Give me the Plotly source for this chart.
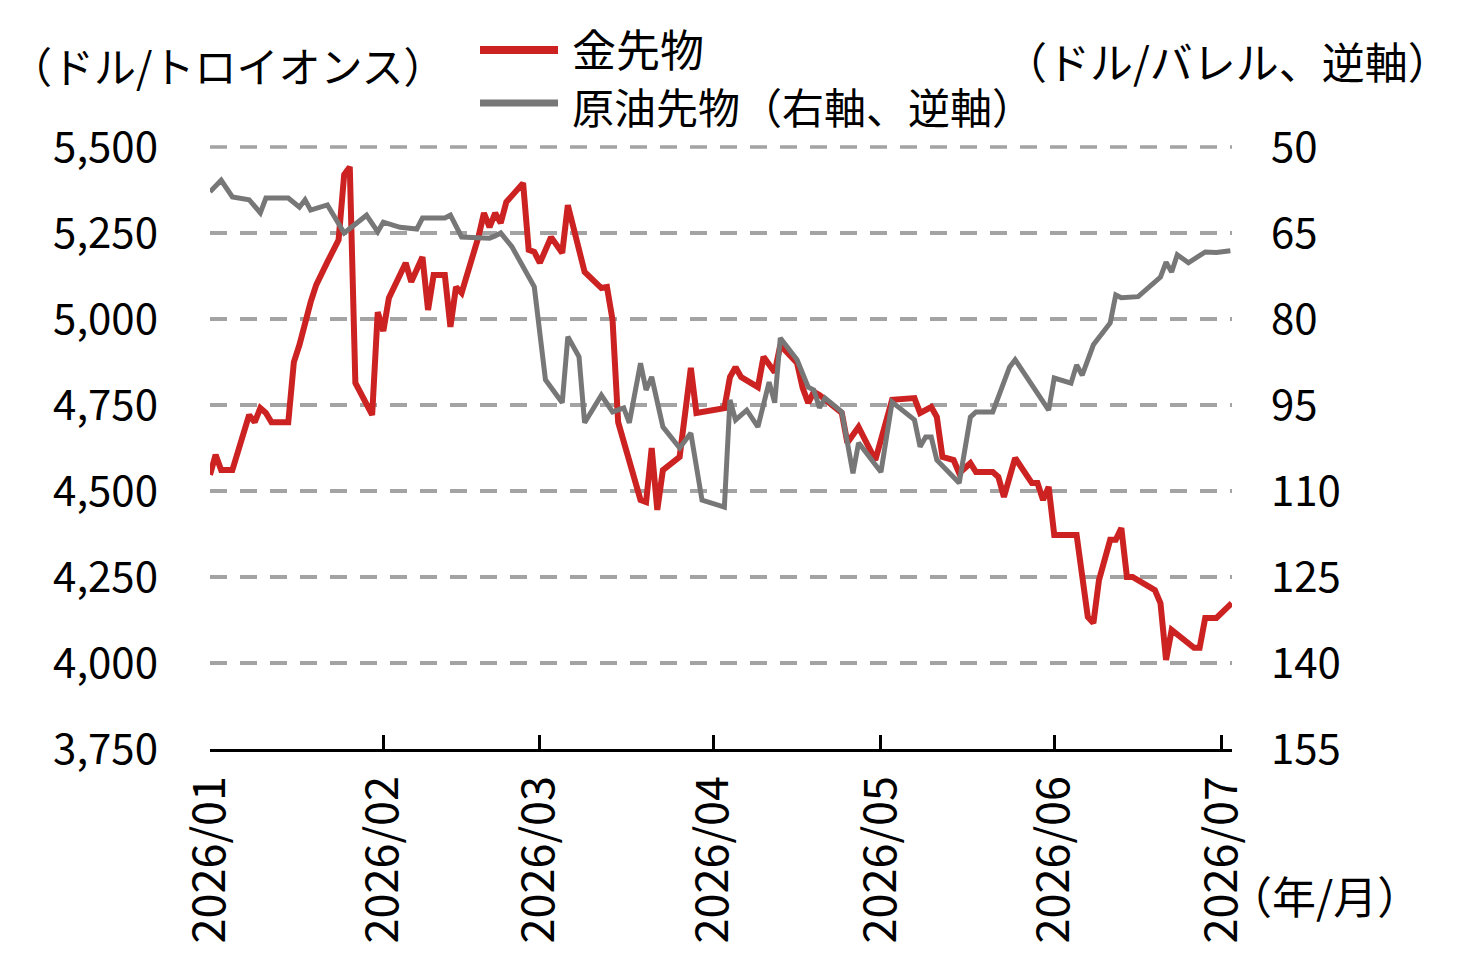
import plotly.graph_objects as go

# ---- data ----
gold_dates = [
    "2026-01-01", "2026-01-02", "2026-01-03", "2026-01-05", "2026-01-08", "2026-01-09",
    "2026-01-10", "2026-01-11", "2026-01-12", "2026-01-15", "2026-01-16", "2026-01-17",
    "2026-01-19", "2026-01-20", "2026-01-22", "2026-01-23", "2026-01-24", "2026-01-25",
    "2026-01-26", "2026-01-27", "2026-01-30", "2026-01-31", "2026-02-01", "2026-02-02",
    "2026-02-04", "2026-02-05", "2026-02-06", "2026-02-08", "2026-02-09", "2026-02-10",
    "2026-02-12", "2026-02-13", "2026-02-14", "2026-02-15", "2026-02-18", "2026-02-19",
    "2026-02-20", "2026-02-21", "2026-02-22", "2026-02-23", "2026-02-26", "2026-02-27",
    "2026-02-28", "2026-03-01", "2026-03-03", "2026-03-05", "2026-03-06", "2026-03-09",
    "2026-03-12", "2026-03-13", "2026-03-14", "2026-03-15", "2026-03-19", "2026-03-20",
    "2026-03-21", "2026-03-22", "2026-03-23", "2026-03-26", "2026-03-28", "2026-03-29",
    "2026-04-03", "2026-04-04", "2026-04-05", "2026-04-06", "2026-04-09", "2026-04-10",
    "2026-04-12", "2026-04-13", "2026-04-16", "2026-04-17", "2026-04-18", "2026-04-19",
    "2026-04-20", "2026-04-24", "2026-04-25", "2026-04-27", "2026-04-30", "2026-05-03",
    "2026-05-07", "2026-05-08", "2026-05-10", "2026-05-11", "2026-05-12", "2026-05-14",
    "2026-05-15", "2026-05-17", "2026-05-18", "2026-05-21", "2026-05-22", "2026-05-23",
    "2026-05-25", "2026-05-28", "2026-05-29", "2026-05-30", "2026-05-31", "2026-06-01",
    "2026-06-05", "2026-06-07", "2026-06-08", "2026-06-09", "2026-06-11", "2026-06-12",
    "2026-06-13", "2026-06-14", "2026-06-15", "2026-06-19", "2026-06-20", "2026-06-21",
    "2026-06-22", "2026-06-26", "2026-06-27", "2026-06-28", "2026-06-30", "2026-07-02 18:00",
]
gold_values = [
    4547, 4605, 4561, 4561, 4721, 4700,
    4741, 4727, 4700, 4700, 4875, 4925,
    5049, 5099, 5166, 5201, 5230, 5420,
    5442, 4814, 4721, 5020, 4965, 5061,
    5134, 5163, 5108, 5180, 5026, 5128,
    5128, 4977, 5093, 5076, 5238, 5308,
    5267, 5308, 5279, 5340, 5395, 5201,
    5195, 5163, 5238, 5192, 5331, 5137,
    5090, 5093, 4997, 4700, 4474, 4468,
    4625, 4445, 4561, 4599, 4858, 4727,
    4741, 4831, 4860, 4831, 4802, 4890,
    4845, 4924, 4872, 4800, 4756, 4788,
    4779, 4727, 4640, 4686, 4590, 4765,
    4770, 4727, 4744, 4715, 4599, 4590,
    4552, 4581, 4555, 4555, 4541, 4483,
    4596, 4523, 4523, 4474, 4512, 4372,
    4372, 4134, 4116, 4241, 4358, 4358,
    4392, 4250, 4250, 4212, 4174, 4009,
    4096, 4044, 4044, 4131, 4131, 4174,
]

oil_dates = [
    "2026-01-01", "2026-01-03", "2026-01-05", "2026-01-08", "2026-01-10", "2026-01-11",
    "2026-01-15", "2026-01-17", "2026-01-18", "2026-01-19", "2026-01-22", "2026-01-25",
    "2026-01-29", "2026-01-31", "2026-02-01", "2026-02-04", "2026-02-07", "2026-02-08",
    "2026-02-12", "2026-02-13", "2026-02-15", "2026-02-20", "2026-02-21", "2026-02-22",
    "2026-02-24", "2026-02-26", "2026-02-27", "2026-02-28", "2026-03-02", "2026-03-05",
    "2026-03-06", "2026-03-08", "2026-03-09", "2026-03-12", "2026-03-14", "2026-03-16",
    "2026-03-17", "2026-03-19", "2026-03-20", "2026-03-21", "2026-03-23", "2026-03-26",
    "2026-03-28", "2026-03-30", "2026-04-03", "2026-04-04", "2026-04-05", "2026-04-07",
    "2026-04-09", "2026-04-11", "2026-04-12", "2026-04-13", "2026-04-16", "2026-04-18",
    "2026-04-19", "2026-04-20", "2026-04-21", "2026-04-24", "2026-04-26", "2026-04-27",
    "2026-05-01", "2026-05-03", "2026-05-07", "2026-05-08", "2026-05-09", "2026-05-10",
    "2026-05-11", "2026-05-15", "2026-05-17", "2026-05-18", "2026-05-21", "2026-05-24",
    "2026-05-25", "2026-05-31", "2026-06-01", "2026-06-04", "2026-06-05", "2026-06-06",
    "2026-06-08", "2026-06-11", "2026-06-12", "2026-06-13", "2026-06-16", "2026-06-19",
    "2026-06-20", "2026-06-21", "2026-06-22", "2026-06-23", "2026-06-25", "2026-06-28",
    "2026-06-30", "2026-07-02 12:00",
]
oil_values = [
    57.8, 55.8, 58.7, 59.2, 61.5, 58.9,
    58.9, 60.5, 59.2, 61.0, 60.1, 65.0,
    61.9, 64.8, 63.1, 64.0, 64.3, 62.4,
    62.4, 61.9, 65.7, 65.9, 65.5, 65.0,
    67.4, 71.1, 73.0, 74.4, 90.6, 94.6,
    83.1, 86.6, 98.1, 93.3, 96.2, 95.5,
    98.1, 87.7, 92.4, 90.1, 98.8, 102.5,
    99.9, 111.6, 112.8, 94.1, 97.6, 95.9,
    98.8, 91.0, 94.6, 83.3, 87.1, 91.9,
    92.4, 95.5, 93.8, 96.2, 106.9, 101.6,
    106.7, 94.5, 97.6, 102.3, 100.6, 100.6,
    104.6, 108.6, 97.1, 96.2, 96.2, 88.4,
    87.1, 95.9, 90.3, 91.2, 88.0, 89.8,
    84.5, 80.7, 75.8, 76.3, 76.1, 73.5,
    72.7, 70.1, 71.8, 68.8, 70.2, 68.3,
    68.4, 68.1,
]

left_ticks = [3750, 4000, 4250, 4500, 4750, 5000, 5250, 5500]
right_ticks = [50, 65, 80, 95, 110, 125, 140, 155]
month_ticks = ["2026-01-01", "2026-02-01", "2026-03-01", "2026-04-01",
               "2026-05-01", "2026-06-01", "2026-07-01"]

gold_name = "金先物"
oil_name = "原油先物（右軸、逆軸）"
left_title = "（ドル/トロイオンス）"
right_title = "（ドル/バレル、逆軸）"
x_title = "（年/月）"

# ---- styles ----
RED = "#cc2222"
GRAY = "#777777"
GRID = "#a3a3a3"
FONT = "Noto Sans CJK JP"
W, H = 1477, 966
L, R, T, B = 210, 245, 147, 217
PW, PH = W - L - R, H - T - B
TICK_SIZE = 42
XTICK_SIZE = 45
GRID_W = 3.5
GRID_DASH = "17px,13px"


def px(x):
    return (x - L) / PW


def py(y):
    return (H - B - y) / PH


fig = go.Figure()
fig.add_trace(go.Scatter(x=gold_dates, y=gold_values, mode="lines", name=gold_name,
                         line=dict(color=RED, width=6), yaxis="y", showlegend=False))
fig.add_trace(go.Scatter(x=oil_dates, y=oil_values, mode="lines", name=oil_name,
                         line=dict(color=GRAY, width=5), yaxis="y2", showlegend=False))

fig.update_layout(
    width=W, height=H, autosize=False,
    margin=dict(l=L, r=R, t=T, b=B, pad=0),
    paper_bgcolor="white", plot_bgcolor="white",
    font=dict(family=FONT, size=TICK_SIZE, color="black"),
    xaxis=dict(
        range=["2026-01-01", "2026-07-02 19:00"],
        tickvals=month_ticks, tickformat="%Y/%m", tickangle=-90,
        ticks="inside", ticklen=14, tickwidth=3, tickcolor="black",
        showline=True, linecolor="black", linewidth=3,
        showgrid=False, zeroline=False,
        tickfont=dict(family=FONT, size=XTICK_SIZE, color="black"),
        ticklabelstandoff=6,
    ),
    yaxis=dict(
        range=[3750, 5500], tickvals=left_ticks, tickformat=",d",
        showgrid=True, gridcolor=GRID, gridwidth=GRID_W, griddash=GRID_DASH,
        zeroline=False, showline=False, ticks="",
        tickfont=dict(family=FONT, size=TICK_SIZE, color="black"),
        ticklabelstandoff=51,
    ),
    yaxis2=dict(
        range=[155, 50], tickvals=right_ticks, overlaying="y", side="right",
        showgrid=False, zeroline=False, showline=False, ticks="",
        tickfont=dict(family=FONT, size=TICK_SIZE, color="black"),
        ticklabelstandoff=38,
    ),
)

# top grid line (at the top edge of the plot area)
fig.add_shape(type="line", xref="paper", yref="paper", x0=0, x1=1, y0=1, y1=1,
              line=dict(color=GRID, width=GRID_W, dash=GRID_DASH), layer="below")

# legend drawn by hand
fig.add_shape(type="line", xref="paper", yref="paper", x0=px(480), x1=px(558), y0=py(50), y1=py(50),
              line=dict(color=RED, width=8))
fig.add_shape(type="line", xref="paper", yref="paper", x0=px(480), x1=px(558), y0=py(103), y1=py(103),
              line=dict(color=GRAY, width=7))
fig.add_annotation(text=gold_name, xref="paper", yref="paper", x=px(570), y=py(48),
                   xanchor="left", yanchor="middle", showarrow=False, font=dict(size=44))
fig.add_annotation(text=oil_name, xref="paper", yref="paper", x=px(570), y=py(105),
                   xanchor="left", yanchor="middle", showarrow=False, font=dict(size=42))

fig.add_annotation(text=left_title, xref="paper", yref="paper", x=px(8), y=py(64),
                   xanchor="left", yanchor="middle", showarrow=False, font=dict(size=42))
fig.add_annotation(text=right_title, xref="paper", yref="paper", x=px(1002), y=py(60),
                   xanchor="left", yanchor="middle", showarrow=False, font=dict(size=43))
fig.add_annotation(text=x_title, xref="paper", yref="paper", x=px(1226), y=py(895),
                   xanchor="left", yanchor="middle", showarrow=False, font=dict(size=44))

fig.write_html("out.html")
